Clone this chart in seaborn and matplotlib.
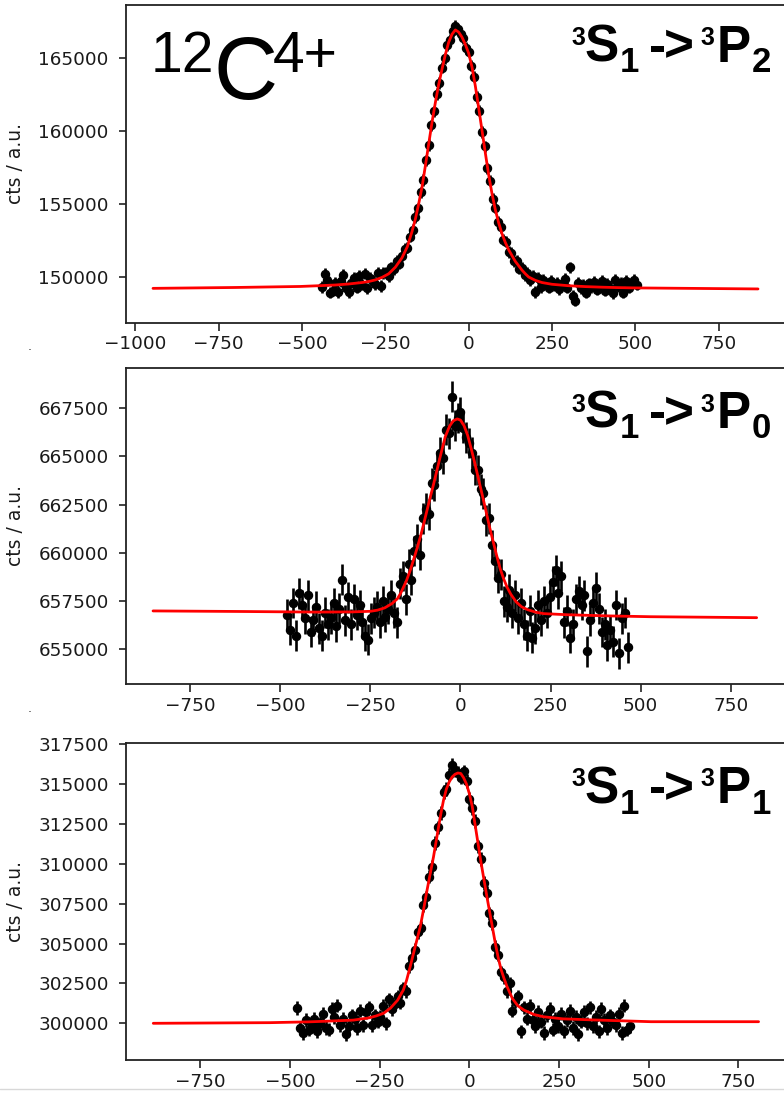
import matplotlib
matplotlib.use("Agg")
import matplotlib.pyplot as plt
from matplotlib.ticker import MultipleLocator, ScalarFormatter
from matplotlib.lines import Line2D
import seaborn as sns

# ---------------- 3S1 -> 3P2 ----------------
p2_x = [-440, -432, -424, -416, -408, -400, -392, -384, -376, -368, -360, -352, -344, -336, -328,
        -320, -312, -304, -296, -288, -280, -272, -264, -256, -248, -240, -232, -224, -216, -208,
        -200, -192, -184, -176, -168, -160, -152, -144, -136, -128, -120, -112, -104, -96, -88,
        -80, -72, -64, -56, -48, -40, -32, -24, -16, -8, 0, 8, 16, 24, 32,
        40, 48, 56, 64, 72, 80, 88, 96, 104, 112, 120, 128, 136, 144, 152,
        160, 168, 176, 184, 192, 200, 208, 216, 224, 232, 240, 248, 256, 264, 272,
        280, 288, 296, 304, 312, 320, 328, 336, 344, 352, 360, 368, 376, 384, 392,
        400, 408, 416, 424, 432, 440, 448, 456, 464, 472, 480, 488, 496, 504]
p2_y = [149290, 150200, 149750, 148900, 149050, 149600, 148950, 149700, 150150, 149250, 148950, 149600, 149900, 149250, 150050,
        149450, 150200, 149200, 149900, 149700, 149500, 150250, 149350, 150250, 150300, 150050, 150650, 150500, 151100, 150900,
        151450, 151900, 152000, 152750, 153200, 154100, 154700, 155800, 156650, 158000, 159050, 160400, 161350, 162550, 163300,
        164350, 165000, 165900, 166250, 166850, 167250, 167000, 166650, 166400, 165700, 165450, 164500, 163750, 162350, 161400,
        159950, 158950, 157450, 156600, 155350, 154750, 153750, 153400, 152550, 152400, 151700, 151650, 151050, 151100, 150550,
        150600, 150100, 150250, 149750, 150050, 148950, 149900, 149300, 149800, 149550, 149250, 149700, 149400, 149600, 149150,
        149500, 149850, 149250, 150650, 148700, 148350, 149600, 149200, 149450, 148900, 149550, 149300, 149650, 149100, 149400,
        149700, 149050, 149500, 149250, 148850, 149800, 149350, 149600, 148900, 149700, 149250, 149550, 149800, 149450]
p2_err = 390
p2_fit_x = [-947, -700, -505, -440, -400, -360, -320, -300, -280, -260, -240, -220, -200, -184, -170,
            -160, -150, -140, -130, -120, -110, -100, -90, -80, -70, -60, -50, -40, -30, -20,
            -10, 0, 10, 20, 30, 40, 50, 60, 70, 80, 90, 100, 110, 120, 130,
            140, 150, 160, 170, 180, 200, 220, 250, 300, 350, 400, 450, 500, 868]
p2_fit_y = [149200, 149260, 149330, 149390, 149430, 149500, 149600, 149670, 149780, 149950, 150200, 150650, 151300, 152060, 153100,
            153950, 155000, 156150, 157600, 159100, 160600, 161950, 163200, 164250, 165250, 166100, 166650, 166950, 166800, 166450,
            165950, 165350, 164400, 163100, 161600, 160050, 158500, 157000, 155700, 154600, 153700, 152950, 152350, 151850, 151450,
            151050, 150750, 150450, 150200, 149980, 149750, 149600, 149480, 149380, 149320, 149280, 149250, 149230, 149160]

# ---------------- 3S1 -> 3P0 ----------------
p0_x = [-480, -472, -464, -456, -448, -440, -432, -424, -416, -408, -400, -392, -384, -376, -368,
        -360, -352, -344, -336, -328, -320, -312, -304, -296, -288, -280, -272, -264, -256, -248,
        -240, -232, -224, -216, -208, -200, -192, -184, -176, -168, -160, -152, -144, -136, -128,
        -120, -112, -104, -96, -88, -80, -72, -64, -56, -48, -40, -32, -24, -16, -8,
        0, 8, 16, 24, 32, 40, 48, 56, 64, 72, 80, 88, 96, 104, 112,
        120, 128, 136, 144, 152, 160, 168, 176, 184, 192, 200, 208, 216, 224, 232,
        240, 248, 256, 264, 272, 280, 288, 296, 304, 312, 320, 328, 336, 344, 352,
        360, 368, 376, 384, 392, 400, 408, 416, 424, 432, 440, 448, 456, 464]
p0_y = [656800, 656000, 657400, 655700, 657900, 657300, 656600, 657800, 655900, 656500, 657200, 656100, 655700, 656900, 656300,
        656600, 657400, 656200, 657100, 658600, 656500, 657700, 656300, 657600, 656800, 657300, 656400, 655700, 655500, 656600,
        656900, 657200, 656400, 657500, 656700, 657100, 657800, 656900, 656400, 658400, 658800, 657600, 659400, 658600, 660100,
        660700, 659900, 661800, 662300, 662000, 663600, 663500, 664500, 665200, 664900, 666400, 666200, 668100, 666600, 667000,
        667300, 666500, 666000, 665700, 665200, 664300, 664300, 663300, 663100, 661700, 661800, 660400, 659600, 658700, 658900,
        657500, 657200, 658100, 656900, 657800, 656600, 657400, 656300, 655700, 657000, 655600, 656100, 657300, 656500, 657500,
        656900, 657700, 658500, 659100, 657900, 658800, 656400, 657000, 655600, 656300, 657600, 658000, 657300, 657800, 654900,
        656500, 657400, 658200, 657100, 655900, 656300, 655200, 656000, 655400, 657300, 654800, 656600, 656900, 655100]
p0_err = 800
p0_fit_x = [-853, -600, -400, -300, -250, -230, -210, -190, -175, -166, -150, -139, -125, -111, -100,
            -88, -76, -65, -54, -42, -30, -20, -9, 0, 10, 20, 30, 40, 50, 60,
            70, 80, 90, 100, 110, 120, 130, 140, 155, 170, 187, 210, 231, 300, 416,
            527, 822]
p0_fit_y = [656990, 656960, 656930, 656940, 656970, 657030, 657150, 657370, 657620, 657900, 658550, 659110, 659950, 660840, 661650,
            662570, 663450, 664300, 665150, 666030, 666580, 666850, 666950, 666890, 666600, 666100, 665400, 664650, 663850, 663050,
            662250, 661400, 660650, 659900, 659200, 658650, 658200, 657850, 657450, 657200, 657050, 656920, 656850, 656790, 656730,
            656690, 656640]

# ---------------- 3S1 -> 3P1 ----------------
p1_x = [-480, -472, -464, -456, -448, -440, -432, -424, -416, -408, -400, -392, -384, -376, -368,
        -360, -352, -344, -336, -328, -320, -312, -304, -296, -288, -280, -272, -264, -256, -248,
        -240, -232, -224, -216, -208, -200, -192, -184, -176, -168, -160, -152, -144, -136, -128,
        -120, -112, -104, -96, -88, -80, -72, -64, -56, -48, -40, -32, -24, -16, -8,
        0, 8, 16, 24, 32, 40, 48, 56, 64, 72, 80, 88, 96, 104, 112,
        120, 128, 136, 144, 152, 160, 168, 176, 184, 192, 200, 208, 216, 224, 232,
        240, 248, 256, 264, 272, 280, 288, 296, 304, 312, 320, 328, 336, 344, 352,
        360, 368, 376, 384, 392, 400, 408, 416, 424, 432, 440, 448]
p1_y = [300950, 299700, 299400, 300200, 299600, 299900, 300300, 299500, 300000, 300600, 299700, 299600, 300900, 300400, 301100,
        299900, 300300, 299300, 299800, 300500, 300300, 299700, 300800, 299900, 300700, 301000, 299900, 300500, 300100, 300400,
        301100, 300000, 301500, 300900, 301200, 301700, 301300, 302200, 302000, 303600, 304100, 304600, 305700, 306000, 307400,
        307900, 309200, 309800, 311300, 312300, 313200, 314500, 314700, 315600, 316200, 315900, 315700, 315400, 315800, 315200,
        314100, 313500, 312700, 311100, 310300, 308800, 308200, 306900, 306300, 304800, 304300, 303200, 302900, 302000, 302500,
        300800, 301400, 301700, 299500, 301000, 300300, 301100, 300200, 299800, 300700, 300100, 299400, 300500, 300900, 299600,
        300300, 299800, 300600, 299500, 300200, 300800, 299700, 300400, 299300, 300100, 300700, 300000, 301000, 299800, 300400,
        299500, 300900, 300200, 299700, 300500, 300100, 299900, 300600, 299400, 301100, 299600, 299800]
p1_err = 420
p1_fit_x = [-881, -556, -450, -400, -323, -280, -260, -239, -220, -200, -184, -175, -165, -150, -137,
            -128, -118, -109, -100, -92, -86, -79, -72, -64, -56, -48, -40, -32, -24, -16,
            -8, 0, 8, 16, 24, 32, 40, 48, 56, 64, 72, 80, 88, 96, 105,
            120, 135, 152, 180, 207, 260, 347, 506, 806]
p1_fit_y = [300000, 300040, 300090, 300130, 300200, 300340, 300460, 300630, 300950, 301450, 302090, 302700, 303550, 304900, 306050,
            307100, 308350, 309400, 310440, 311500, 312300, 313200, 314000, 314700, 315150, 315450, 315620, 315700, 315670, 315400,
            315000, 314400, 313600, 312450, 311300, 310150, 309100, 308050, 307050, 306050, 305050, 304150, 303400, 302850, 302300,
            301550, 301100, 300830, 300550, 300410, 300280, 300210, 300100, 300100]

y_label = "cts / a.u."
x_ticks_step = 250

W, H, DPI = 784, 1093, 100

sns.set_style("ticks")
plt.rcParams["font.family"] = ["DejaVu Sans"]
LABEL_FONT = ["Liberation Sans", "DejaVu Sans"]

fig = plt.figure(figsize=(W / DPI, H / DPI), dpi=DPI)
fig.patch.set_facecolor("white")


def px_box(left, top, right, bottom):
    return [left / W, 1 - bottom / H, (right - left) / W, (bottom - top) / H]


panels = [
    dict(box=px_box(126, 5, 788, 322.7), x=p2_x, y=p2_y, err=p2_err, fx=p2_fit_x, fy=p2_fit_y,
         xlim=(-1028, 958), ylim=(146841, 168661), ystep=5000,
         final="2", base=61.5),
    dict(box=px_box(126, 368, 788, 684), x=p0_x, y=p0_y, err=p0_err, fx=p0_fit_x, fy=p0_fit_y,
         xlim=(-928, 909), ylim=(653200, 669590), ystep=2500,
         final="0", base=428),
    dict(box=px_box(126, 743.3, 788, 1060), x=p1_x, y=p1_y, err=p1_err, fx=p1_fit_x, fy=p1_fit_y,
         xlim=(-957, 888), ylim=(297698, 317563), ystep=2500,
         final="1", base=803),
]

for p in panels:
    ax = fig.add_axes(p["box"])
    ax.set_facecolor("white")
    ax.errorbar(p["x"], p["y"], yerr=p["err"], fmt="o", color="black", ms=5.8,
                elinewidth=1.9, capsize=0, zorder=2)
    sns.lineplot(x=p["fx"], y=p["fy"], color="red", lw=2.0, ax=ax, zorder=3,
                 estimator=None, legend=False)
    ax.set_xlim(*p["xlim"])
    ax.set_ylim(*p["ylim"])
    ax.xaxis.set_major_locator(MultipleLocator(x_ticks_step))
    ax.yaxis.set_major_locator(MultipleLocator(p["ystep"]))
    fmt = ScalarFormatter(useOffset=False)
    fmt.set_scientific(False)
    ax.yaxis.set_major_formatter(fmt)
    for side in ("left", "bottom", "top", "right"):
        ax.spines[side].set_color("#222222")
        ax.spines[side].set_linewidth(1.3)
    ax.tick_params(axis="both", which="major", length=5.4, width=1.2, color="#222222",
                   labelsize=13.2, labelcolor="#1a1a1a")
    ax.tick_params(axis="y", pad=7)
    ax.tick_params(axis="x", pad=3.8)
    ax.set_xlabel("")
    ax.set_ylabel(y_label, fontsize=13.5, color="#1a1a1a")
    ax.yaxis.set_label_coords(-0.1526, 0.5)

    # transition label, placed glyph run by run (superscripts / subscripts)
    b = p["base"]
    runs = [
        ("3", 571.0, b - 16.5, 18),
        ("S", 585.0, b, 37),
        ("1", 619.5, b + 10.5, 25),
        ("-", 649.0, b, 37),
        (">", 664.0, b, 37),
        ("3", 700.0, b - 16.5, 18),
        ("P", 717.0, b, 37),
        (p["final"], 751.5, b + 10.5, 25),
    ]
    for txt, xp, yp, size in runs:
        fig.text(xp / W, 1 - yp / H, txt, fontsize=size, fontweight="bold",
                 family=LABEL_FONT, ha="left", va="baseline", color="black")

# ion label
ion_runs = [
    ("12", 151.0, 71.7, 41),
    ("C", 213.0, 98.5, 64),
    ("4+", 273.0, 71.7, 41),
]
for txt, xp, yp, size in ion_runs:
    fig.text(xp / W, 1 - yp / H, txt, fontsize=size,
             family=LABEL_FONT, ha="left", va="baseline", color="black")

# small marks at the left margin and the bottom rule
for yp in (350, 712):
    fig.text(28 / W, 1 - yp / H, ".", fontsize=9, color="#333333", ha="left", va="baseline")
fig.add_artist(Line2D([0, 1], [1 - 1089 / H, 1 - 1089 / H], transform=fig.transFigure,
                      color="#d8d8d8", lw=1.0))

fig.savefig("out.png", dpi=DPI, facecolor="white")
